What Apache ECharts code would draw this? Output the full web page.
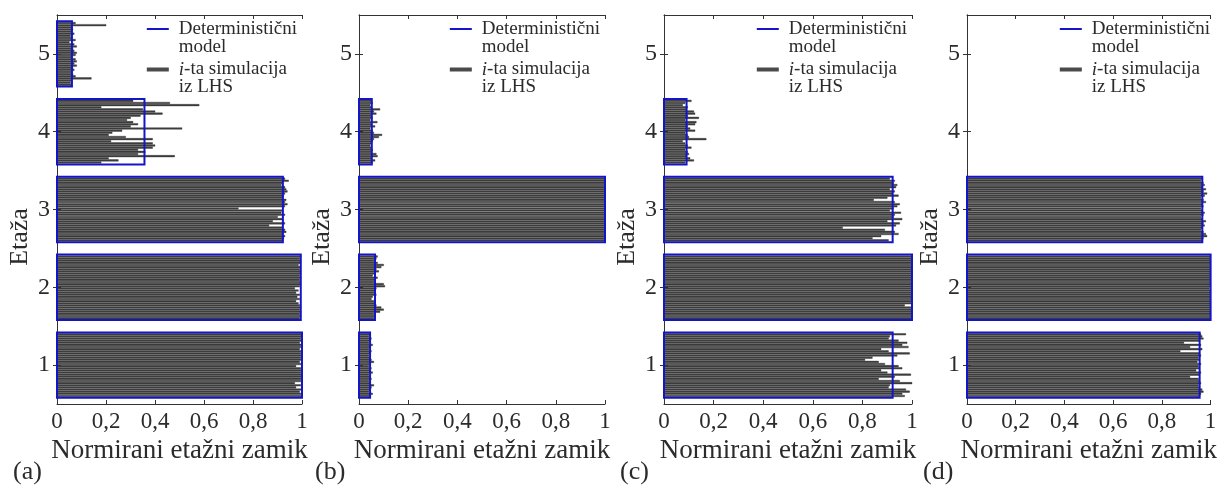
<!DOCTYPE html>
<html>
<head>
<meta charset="utf-8">
<script src="https://cdn.jsdelivr.net/npm/echarts@6/dist/echarts.min.js"></script>
<style>html,body{margin:0;padding:0;background:#fff;}#c{width:1220px;height:486px;}</style>
</head>
<body>
<div id="c"></div>
<script>
// ---------------- DATA ----------------
const floors = ['1', '2', '3', '4', '5'];
const xTickLabels = ['0', '0,2', '0,4', '0,6', '0,8', '1'];
const panelLabels = ['(a)', '(b)', '(c)', '(d)'];
const simCount = 30;

// deterministic model, floors 1..5
const detA = [1.0, 0.995, 0.922, 0.357, 0.061];
const detB = [0.045, 0.065, 1.0, 0.052, 0];
const detC = [0.922, 1.0, 0.922, 0.091, 0];
const detD = [0.955, 1.0, 0.966, 0, 0];

// LHS simulations per floor (values listed from top to bottom inside each floor)
const simA1 = [1.0, 1.0, 0.995, 1.0, 0.99, 1.0, 0.995, 0.99, 1.0, 0.995, 1.0, 0.995, 1.0, 0.99, 1.0, 0.975, 0.995, 1.0, 0.995, 1.0, 1.0, 0.995, 1.0, 0.97, 0.995, 0.975, 1.0, 0.99, 0.995, 1.0];
const simA2 = [0.995, 0.99, 0.995, 0.995, 0.985, 0.995, 0.99, 0.995, 0.995, 0.99, 0.995, 0.99, 0.995, 0.995, 0.99, 0.97, 0.985, 0.975, 0.99, 0.98, 0.99, 0.975, 0.985, 0.99, 0.995, 0.99, 0.995, 0.99, 0.995, 0.99];
const simA3 = [0.93, 0.945, 0.92, 0.915, 0.93, 0.935, 0.94, 0.93, 0.925, 0.92, 0.935, 0.93, 0.94, 0.93, 0.74, 0.92, 0.915, 0.93, 0.9, 0.92, 0.88, 0.93, 0.865, 0.92, 0.93, 0.935, 0.92, 0.93, 0.925, 0.92];
const simA4 = [0.31, 0.46, 0.58, 0.18, 0.35, 0.40, 0.43, 0.34, 0.30, 0.285, 0.31, 0.33, 0.30, 0.51, 0.265, 0.225, 0.21, 0.28, 0.39, 0.22, 0.39, 0.40, 0.39, 0.33, 0.36, 0.33, 0.48, 0.21, 0.25, 0.18];
const simA5 = [0.075, 0.2, 0.06, 0.065, 0.06, 0.07, 0.055, 0.06, 0.075, 0.05, 0.07, 0.08, 0.065, 0.07, 0.08, 0.075, 0.06, 0.075, 0.08, 0.07, 0.08, 0.065, 0.07, 0.06, 0.065, 0.075, 0.14, 0.06, 0.055, 0.06];

const simB1 = [0.045, 0.04, 0.05, 0.045, 0.04, 0.055, 0.045, 0.04, 0.05, 0.045, 0.04, 0.045, 0.05, 0.06, 0.045, 0.04, 0.05, 0.045, 0.055, 0.04, 0.045, 0.05, 0.04, 0.045, 0.06, 0.05, 0.045, 0.04, 0.055, 0.045];
const simB2 = [0.075, 0.07, 0.06, 0.075, 0.1, 0.09, 0.07, 0.08, 0.065, 0.055, 0.075, 0.065, 0.06, 0.1, 0.105, 0.07, 0.065, 0.06, 0.07, 0.055, 0.05, 0.06, 0.065, 0.07, 0.09, 0.1, 0.085, 0.06, 0.065, 0.06];
const simB3 = [1, 1, 1, 1, 1, 1, 1, 1, 1, 1, 1, 1, 1, 1, 1, 1, 1, 1, 1, 1, 1, 1, 1, 1, 1, 1, 1, 1, 1, 1];
const simB4 = [0.05, 0.055, 0.045, 0.05, 0.085, 0.06, 0.07, 0.05, 0.055, 0.045, 0.074, 0.05, 0.065, 0.045, 0.055, 0.06, 0.093, 0.08, 0.06, 0.055, 0.05, 0.045, 0.05, 0.055, 0.05, 0.07, 0.075, 0.05, 0.065, 0.055];
const simB5 = [];

const simC1 = [0.975, 0.91, 0.905, 0.945, 0.98, 0.96, 0.985, 0.875, 0.905, 0.99, 0.94, 0.84, 0.81, 0.865, 0.89, 0.945, 0.96, 0.875, 0.9, 0.995, 0.93, 0.865, 0.95, 1.0, 0.91, 0.905, 0.975, 0.99, 0.96, 0.97];
const simC2 = [1, 1, 1, 1, 1, 1, 1, 1, 1, 1, 1, 1, 1, 1, 1, 1, 1, 1, 1, 1, 1, 1, 1, 0.97, 1, 1, 1, 1, 1, 1];
const simC3 = [0.91, 0.93, 0.925, 0.94, 0.935, 0.91, 0.93, 0.92, 0.945, 0.9, 0.845, 0.93, 0.95, 0.94, 0.925, 0.91, 0.955, 0.93, 0.925, 0.96, 0.9, 0.95, 0.935, 0.72, 0.89, 0.93, 0.945, 0.875, 0.84, 0.905];
const simC4 = [0.11, 0.085, 0.075, 0.095, 0.09, 0.12, 0.125, 0.095, 0.14, 0.085, 0.13, 0.125, 0.095, 0.105, 0.125, 0.085, 0.095, 0.1, 0.17, 0.075, 0.085, 0.095, 0.11, 0.085, 0.095, 0.1, 0.09, 0.105, 0.12, 0.085];
const simC5 = [];

const simD1 = [0.96, 0.965, 0.97, 0.955, 0.89, 0.96, 0.915, 0.965, 0.875, 0.955, 0.96, 0.95, 0.955, 0.945, 0.96, 0.95, 0.955, 0.94, 0.96, 0.955, 0.915, 0.95, 0.955, 0.96, 0.95, 0.955, 0.965, 0.97, 0.96, 0.955];
const simD2 = [1, 1, 1, 1, 1, 1, 1, 1, 1, 1, 1, 1, 1, 1, 1, 0.995, 1, 1, 1, 1, 1, 1, 1, 1, 1, 1, 1, 1, 1, 1];
const simD3 = [0.965, 0.96, 0.97, 0.975, 0.965, 0.98, 0.97, 0.985, 0.975, 0.96, 0.97, 0.98, 0.965, 0.97, 0.96, 0.965, 0.975, 0.97, 0.96, 0.965, 0.98, 0.97, 0.975, 0.965, 0.96, 0.97, 0.98, 0.985, 0.97, 0.965];
const simD4 = [];
const simD5 = [];

// ---------------- CHART ----------------
const panels = [
  { det: detA, sims: [simA1, simA2, simA3, simA4, simA5] },
  { det: detB, sims: [simB1, simB2, simB3, simB4, simB5] },
  { det: detC, sims: [simC1, simC2, simC3, simC4, simC5] },
  { det: detD, sims: [simD1, simD2, simD3, simD4, simD5] }
];
const grids = [
  { left: 57, width: 245 },
  { left: 359, width: 246 },
  { left: 664, width: 248 },
  { left: 967, width: 248 }
];
const GRID_TOP = 15, GRID_H = 389;
const FONT = '"Liberation Serif", "DejaVu Serif", serif';
const TXT = '#2b2b2b';
const BLUE = '#1515c8';
const NAME_DET = 'Deterministični model';
const NAME_SIM = 'i-ta simulacija iz LHS';

function renderSim(params, api) {
  const v = api.value(0), f = api.value(1), i = api.value(2);
  if (!(v > 0)) return null;
  const c0 = api.coord([0, f]);
  const band = api.size([0, 1])[1];
  const slot = 0.82 * band / simCount;
  const yTop = c0[1] - 0.41 * band + i * slot;
  const x1 = api.coord([v, f])[0];
  return {
    type: 'rect',
    shape: { x: c0[0], y: yTop + slot * 0.12, width: x1 - c0[0], height: slot * 0.76 },
    style: { fill: '#434343', stroke: '#1e1e1e', lineWidth: 0.35 }
  };
}
function renderDet(params, api) {
  const v = api.value(0), f = api.value(1);
  if (!(v > 0)) return null;
  const c0 = api.coord([0, f]);
  const band = api.size([0, 1])[1];
  const x1 = api.coord([v, f])[0];
  return {
    type: 'rect',
    shape: { x: c0[0], y: c0[1] - 0.42 * band, width: x1 - c0[0], height: 0.84 * band },
    style: { fill: 'none', stroke: BLUE, lineWidth: 2 }
  };
}

const option = {
  backgroundColor: '#fff',
  animation: false,
  grid: [], xAxis: [], yAxis: [], series: [], legend: [], graphic: []
};

panels.forEach((p, k) => {
  const g = grids[k];
  option.grid.push({ left: g.left, width: g.width, top: GRID_TOP, height: GRID_H, containLabel: false });
  const axLine = { show: true, lineStyle: { color: '#333', width: 1 } };
  const tick = { show: true, inside: true, length: 4, lineStyle: { color: '#333' } };
  option.xAxis.push({
    type: 'value', gridIndex: k, min: 0, max: 1, interval: 0.2, position: 'bottom',
    axisLine: axLine, axisTick: tick, splitLine: { show: false },
    axisLabel: { color: TXT, fontFamily: FONT, fontSize: 23, margin: 6,
      formatter: v => xTickLabels[Math.round(v / 0.2)] },
    name: 'Normirani etažni zamik', nameLocation: 'middle', nameGap: 27,
    nameTextStyle: { color: TXT, fontFamily: FONT, fontSize: 27 }
  });
  option.xAxis.push({
    type: 'value', gridIndex: k, min: 0, max: 1, interval: 0.2, position: 'top',
    axisLine: axLine, axisTick: tick, axisLabel: { show: false }, splitLine: { show: false }
  });
  option.yAxis.push({
    type: 'category', gridIndex: k, data: floors, position: 'left',
    axisLine: axLine, axisTick: Object.assign({ alignWithLabel: true }, tick),
    axisLabel: { color: TXT, fontFamily: FONT, fontSize: 24, margin: 7 },
    splitLine: { show: false }
  });
  option.yAxis.push({
    type: 'category', gridIndex: k, data: floors, position: 'right',
    axisLine: axLine, axisTick: Object.assign({ alignWithLabel: true }, tick),
    axisLabel: { show: false }, splitLine: { show: false }
  });

  const simData = [];
  p.sims.forEach((arr, f) => arr.forEach((v, i) => simData.push([v, f, i])));
  const detData = p.det.map((v, f) => [v, f]);

  option.series.push({
    type: 'custom', name: NAME_SIM, xAxisIndex: 2 * k, yAxisIndex: 2 * k,
    renderItem: renderSim, data: simData, encode: { x: 0, y: 1 },
    itemStyle: { color: '#4a4a4a' }, z: 2, silent: true
  });
  option.series.push({
    type: 'custom', name: NAME_DET, xAxisIndex: 2 * k, yAxisIndex: 2 * k,
    renderItem: renderDet, data: detData, encode: { x: 0, y: 1 },
    itemStyle: { color: BLUE }, z: 3, silent: true
  });

  option.legend.push({
    orient: 'vertical', right: 1220 - (g.left + g.width - 5), top: 2, padding: 0,
    itemGap: -14, itemWidth: 22, itemHeight: 4, align: 'left', selectedMode: false,
    data: [
      { name: NAME_DET, icon: 'path://M0,0H22V2H0Z' },
      { name: NAME_SIM, icon: 'path://M0,0H22V4H0Z' }
    ],
    formatter: n => n === NAME_DET ? 'Deterministični\nmodel' : '{it|i}-ta simulacija\niz LHS',
    textStyle: {
      color: TXT, fontFamily: FONT, fontSize: 19, lineHeight: 18, padding: [18, 0, 0, 5],
      rich: { it: { fontStyle: 'italic', fontFamily: FONT, fontSize: 19, lineHeight: 18, color: TXT } }
    }
  });

  option.graphic.push({
    type: 'text', x: g.left - 37, y: 237, rotation: Math.PI / 2,
    style: { text: 'Etaža', fill: TXT, font: '26px ' + FONT, align: 'center', verticalAlign: 'middle' }
  });
  option.graphic.push({
    type: 'text', x: g.left - 44, y: 472,
    style: { text: panelLabels[k], fill: TXT, font: '26px ' + FONT, align: 'left', verticalAlign: 'middle' }
  });
});

const chart = echarts.init(document.getElementById('c'), null, { renderer: 'canvas' });
chart.setOption(option);
</script>
</body>
</html>
